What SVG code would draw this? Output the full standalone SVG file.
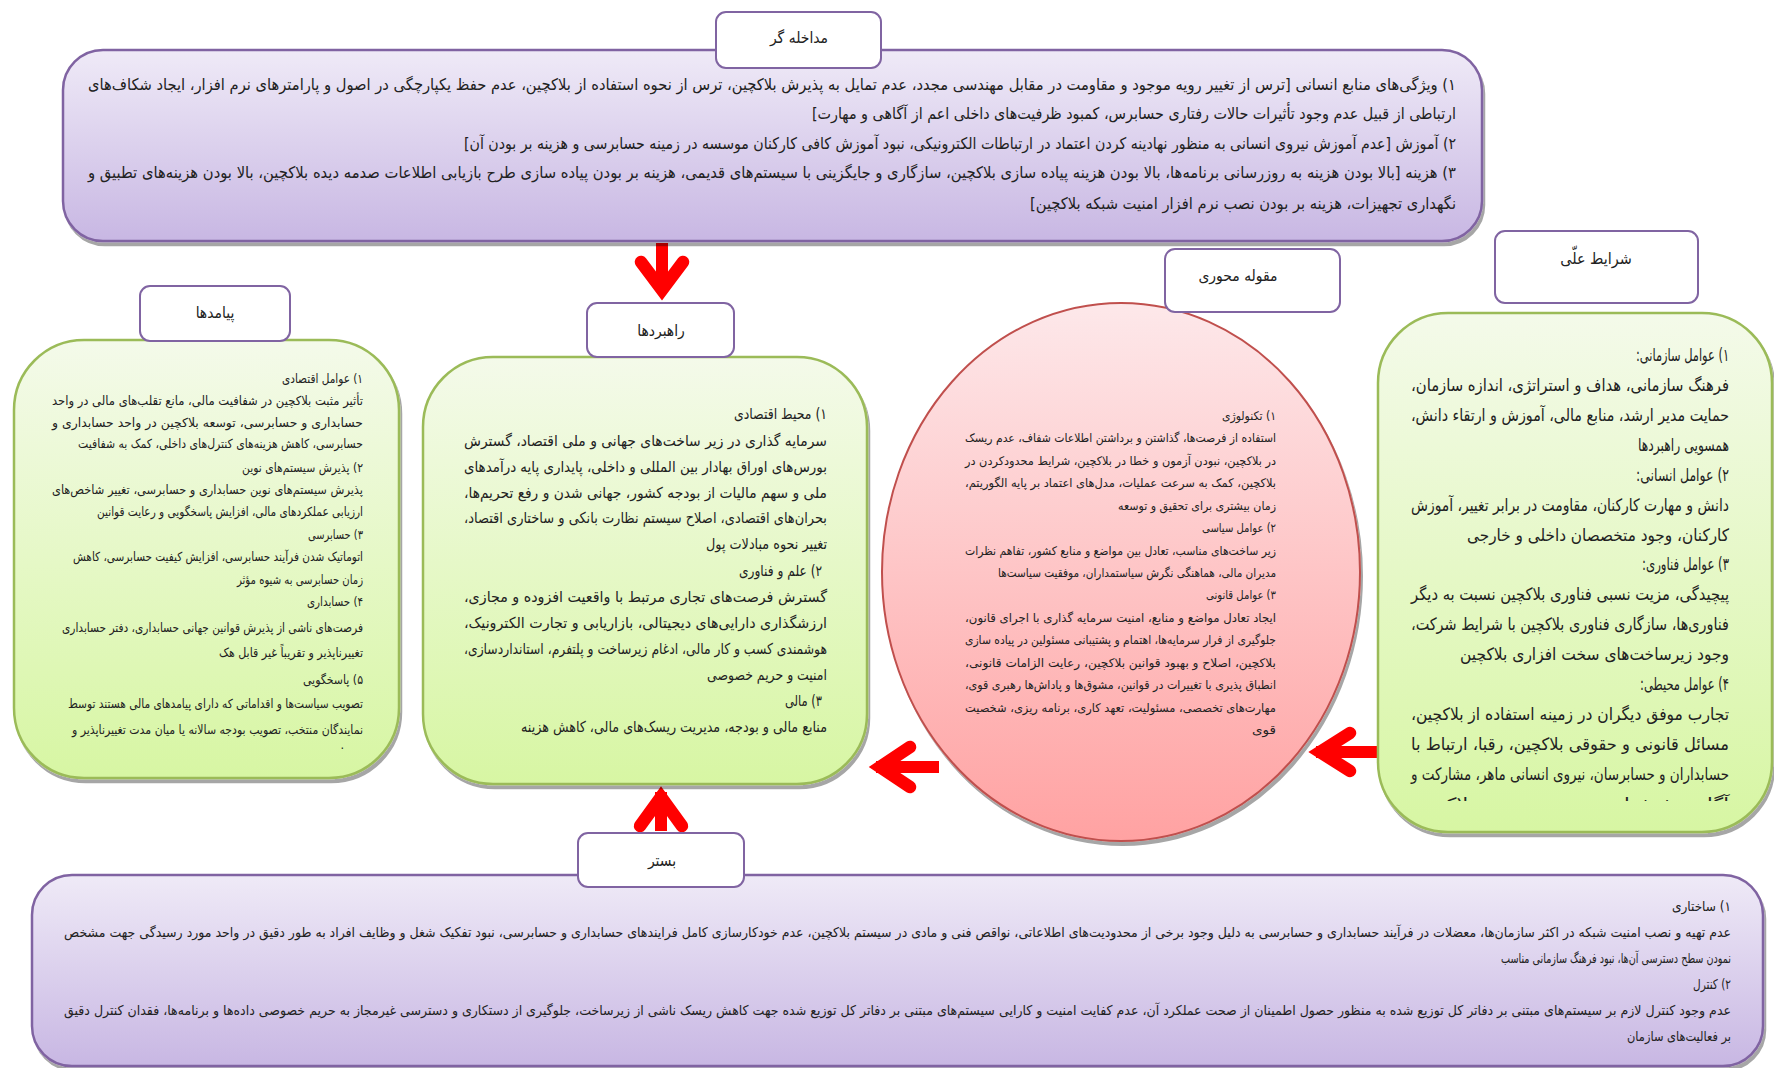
<svg xmlns="http://www.w3.org/2000/svg" width="1774" height="1068" viewBox="0 0 1774 1068">
<defs>
<linearGradient id="gP" x1="0" y1="0" x2="0" y2="1"><stop offset="0" stop-color="#efeaf7"/><stop offset="1" stop-color="#c8b7e3"/></linearGradient>
<linearGradient id="gG" x1="0" y1="0" x2="0" y2="1"><stop offset="0" stop-color="#f4faea"/><stop offset="1" stop-color="#d7f6a3"/></linearGradient>
<linearGradient id="gR" x1="0" y1="0" x2="0" y2="1"><stop offset="0" stop-color="#fde8ea"/><stop offset="1" stop-color="#ffa2a2"/></linearGradient>
<filter id="sh" x="-5%" y="-5%" width="110%" height="115%"><feDropShadow dx="2" dy="4" stdDeviation="0.6" flood-color="#000" flood-opacity="0.35"/></filter>
<clipPath id="clipR"><rect x="1380" y="760" width="390" height="41"/></clipPath>
<style>
.pbox{fill:url(#gP);stroke:#8064a2;stroke-width:2.5;filter:url(#sh)}
.gbox{fill:url(#gG);stroke:#9bbb59;stroke-width:2.5;filter:url(#sh)}
.rell{fill:url(#gR);stroke:#c0504d;stroke-width:2;filter:url(#sh)}
.lbl rect{fill:#fff;stroke:#8064a2;stroke-width:2}
.lbl text{font-family:"DejaVu Sans Condensed","DejaVu Sans",sans-serif;font-size:15.5px;fill:#222;text-anchor:middle}
.tx{font-family:"DejaVu Sans Condensed","DejaVu Sans",sans-serif;fill:#222;direction:rtl;text-anchor:start}
.f16{font-size:16px}.f12{font-size:12.5px}.f15{font-size:15px}.f11{font-size:12px}.f17{font-size:17px}.f13{font-size:13.5px}
.arr{fill:none;stroke:#ff0000;stroke-width:12.5;stroke-linecap:round;stroke-linejoin:miter}
.shaft{fill:none;stroke:#ff0000;stroke-width:12;stroke-linecap:butt}
</style>
</defs>
<rect width="1774" height="1068" fill="#fff"/>

<g id="connectors">
<path class="shaft" d="M662,243 V292"/>
<path class="arr" d="M641,262 L662,290 L683,262"/>
<path class="shaft" d="M939,767 H876"/>
<path class="arr" d="M910,747 L880,767 L910,787"/>
<path class="shaft" d="M1378,752 H1316"/>
<path class="arr" d="M1350,733 L1320,752 L1350,771"/>
<path class="shaft" d="M661,831 V792"/>
<path class="arr" d="M640,826 L661,797 L682,826"/>
</g>

<g id="intervening">
<rect class="pbox" x="63" y="50" width="1419" height="191" rx="40"/>
<text class="tx f16" x="1456" y="90" textLength="1368" lengthAdjust="spacingAndGlyphs">۱) ویژگی‌های منابع انسانی [ترس از تغییر رویه موجود و مقاومت در مقابل مهندسی مجدد، عدم تمایل به پذیرش بلاکچین، ترس از نحوه استفاده از بلاکچین، عدم حفظ یکپارچگی در اصول و پارامترهای نرم افزار، ایجاد شکاف‌های</text>
<text class="tx f16" x="1456" y="119" textLength="644" lengthAdjust="spacingAndGlyphs">ارتباطی از قبیل عدم وجود تأثیرات حالات رفتاری حسابرس، کمبود ظرفیت‌های داخلی اعم از آگاهی و مهارت]</text>
<text class="tx f16" x="1456" y="149" textLength="992" lengthAdjust="spacingAndGlyphs">۲) آموزش [عدم آموزش نیروی انسانی به منظور نهادینه کردن اعتماد در ارتباطات الکترونیکی، نبود آموزش کافی کارکنان موسسه در زمینه حسابرسی و هزینه بر بودن آن]</text>
<text class="tx f16" x="1456" y="178" textLength="1368" lengthAdjust="spacingAndGlyphs">۳) هزینه [بالا بودن هزینه به روزرسانی برنامه‌ها، بالا بودن هزینه پیاده سازی بلاکچین، سازگاری و جایگزینی با سیستم‌های قدیمی، هزینه بر بودن پیاده سازی طرح بازیابی اطلاعات صدمه دیده بلاکچین، بالا بودن هزینه‌های تطبیق و</text>
<text class="tx f16" x="1456" y="209" textLength="426" lengthAdjust="spacingAndGlyphs">نگهداری تجهیزات، هزینه بر بودن نصب نرم افزار امنیت شبکه بلاکچین]</text>
</g>
<g id="label-intervening" class="lbl">
<rect x="716" y="12" width="165" height="56" rx="10"/>
<text x="799" y="43">مداخله گر</text>
</g>

<g id="consequences">
<rect class="gbox" x="14" y="340" width="385" height="438" rx="70"/>
<text class="tx f12" x="363" y="383" textLength="81" lengthAdjust="spacingAndGlyphs">۱) عوامل اقتصادی</text>
<text class="tx f12" x="363" y="405" textLength="311" lengthAdjust="spacingAndGlyphs">تأثیر مثبت بلاکچین در شفافیت مالی، مانع تقلب‌های مالی در واحد</text>
<text class="tx f12" x="363" y="427" textLength="311" lengthAdjust="spacingAndGlyphs">حسابداری و حسابرسی، توسعه بلاکچین در واحد حسابداری و</text>
<text class="tx f12" x="363" y="448" textLength="285" lengthAdjust="spacingAndGlyphs">حسابرسی، کاهش هزینه‌های کنترل‌های داخلی، کمک به شفافیت</text>
<text class="tx f12" x="363" y="472" textLength="121" lengthAdjust="spacingAndGlyphs">۲) پذیرش سیستم‌های نوین</text>
<text class="tx f12" x="363" y="494" textLength="311" lengthAdjust="spacingAndGlyphs">پذیرش سیستم‌های نوین حسابداری و حسابرسی، تغییر شاخص‌های</text>
<text class="tx f12" x="363" y="516" textLength="266" lengthAdjust="spacingAndGlyphs">ارزیابی عملکردهای مالی، افزایش پاسخگویی و رعایت قوانین</text>
<text class="tx f12" x="363" y="539" textLength="55" lengthAdjust="spacingAndGlyphs">۳) حسابرسی</text>
<text class="tx f12" x="363" y="561" textLength="290" lengthAdjust="spacingAndGlyphs">اتوماتیک شدن فرآیند حسابرسی، افزایش کیفیت حسابرسی، کاهش</text>
<text class="tx f12" x="363" y="584" textLength="126" lengthAdjust="spacingAndGlyphs">زمان حسابرسی به شیوه مؤثر</text>
<text class="tx f12" x="363" y="606" textLength="56" lengthAdjust="spacingAndGlyphs">۴) حسابداری</text>
<text class="tx f12" x="363" y="632" textLength="301" lengthAdjust="spacingAndGlyphs">فرصت‌های ناشی از پذیرش قوانین جهانی حسابداری، دفتر حسابداری</text>
<text class="tx f12" x="363" y="657" textLength="144" lengthAdjust="spacingAndGlyphs">تغییرناپذیر و تقریباً غیر قابل هک</text>
<text class="tx f12" x="363" y="684" textLength="60" lengthAdjust="spacingAndGlyphs">۵) پاسخگویی</text>
<text class="tx f12" x="363" y="708" textLength="295" lengthAdjust="spacingAndGlyphs">تصویب سیاست‌ها و اقداماتی که دارای پیامدهای مالی هستند توسط</text>
<text class="tx f12" x="363" y="734" textLength="291" lengthAdjust="spacingAndGlyphs">نمایندگان منتخب، تصویب بودجه سالانه یا میان مدت تغییرناپذیر و</text>
<text class="tx f12" x="344" y="749">.</text>
</g>
<g id="label-consequences" class="lbl">
<rect x="140" y="286" width="150" height="55" rx="10"/>
<text x="215" y="318">پیامدها</text>
</g>

<g id="strategies">
<rect class="gbox" x="423" y="357" width="444" height="427" rx="70"/>
<text class="tx f15" x="827" y="419" textLength="93" lengthAdjust="spacingAndGlyphs">۱) محیط اقتصادی</text>
<text class="tx f15" x="827" y="446" textLength="363" lengthAdjust="spacingAndGlyphs">سرمایه گذاری در زیر ساخت‌های جهانی و ملی اقتصاد، گسترش</text>
<text class="tx f15" x="827" y="472" textLength="363" lengthAdjust="spacingAndGlyphs">بورس‌های اوراق بهادار بین المللی و داخلی، پایداری پایه درآمدهای</text>
<text class="tx f15" x="827" y="498" textLength="363" lengthAdjust="spacingAndGlyphs">ملی و سهم مالیات از بودجه کشور، جهانی شدن و رفع تحریم‌ها،</text>
<text class="tx f15" x="827" y="523" textLength="363" lengthAdjust="spacingAndGlyphs">بحران‌های اقتصادی، اصلاح سیستم نظارت بانکی و ساختاری اقتصاد،</text>
<text class="tx f15" x="827" y="549" textLength="121" lengthAdjust="spacingAndGlyphs">تغییر نحوه مبادلات پول</text>
<text class="tx f15" x="822" y="576" textLength="83" lengthAdjust="spacingAndGlyphs">۲) علم و فناوری</text>
<text class="tx f15" x="827" y="602" textLength="363" lengthAdjust="spacingAndGlyphs">گسترش فرصت‌های تجاری مرتبط با واقعیت افزوده و مجازی،</text>
<text class="tx f15" x="827" y="628" textLength="363" lengthAdjust="spacingAndGlyphs">ارزشگذاری دارایی‌های دیجیتالی، بازاریابی و تجارت الکترونیک،</text>
<text class="tx f15" x="827" y="654" textLength="363" lengthAdjust="spacingAndGlyphs">هوشمندی کسب و کار مالی، ادغام زیرساخت و پلتفرم، استانداردسازی،</text>
<text class="tx f15" x="827" y="680" textLength="120" lengthAdjust="spacingAndGlyphs">امنیت و حریم خصوصی</text>
<text class="tx f15" x="822" y="706" textLength="37" lengthAdjust="spacingAndGlyphs">۳) مالی</text>
<text class="tx f15" x="827" y="732" textLength="306" lengthAdjust="spacingAndGlyphs">منابع مالی و بودجه، مدیریت ریسک‌های مالی، کاهش هزینه</text>
</g>
<g id="label-strategies" class="lbl">
<rect x="587" y="303" width="147" height="54" rx="10"/>
<text x="661" y="336">راهبردها</text>
</g>

<g id="core-category">
<ellipse class="rell" cx="1121" cy="572" rx="239" ry="269"/>
<text class="tx f11" x="1276" y="420" textLength="54" lengthAdjust="spacingAndGlyphs">۱) تکنولوژی</text>
<text class="tx f11" x="1276" y="442" textLength="311" lengthAdjust="spacingAndGlyphs">استفاده از فرصت‌ها، گذاشتن و برداشتن اطلاعات شفاف، عدم ریسک</text>
<text class="tx f11" x="1276" y="465" textLength="311" lengthAdjust="spacingAndGlyphs">در بلاکچین، نبودن آزمون و خطا در بلاکچین، شرایط محدودکردن در</text>
<text class="tx f11" x="1276" y="487" textLength="311" lengthAdjust="spacingAndGlyphs">بلاکچین، کمک به سرعت عملیات، مدل‌های اعتماد بر پایه الگوریتم،</text>
<text class="tx f11" x="1276" y="510" textLength="158" lengthAdjust="spacingAndGlyphs">زمان بیشتری برای تحقیق و توسعه</text>
<text class="tx f11" x="1276" y="532" textLength="74" lengthAdjust="spacingAndGlyphs">۲) عوامل سیاسی</text>
<text class="tx f11" x="1276" y="555" textLength="311" lengthAdjust="spacingAndGlyphs">زیر ساخت‌های مناسب، تعادل بین مواضع و منابع کشور، تفاهم نظرات</text>
<text class="tx f11" x="1276" y="577" textLength="278" lengthAdjust="spacingAndGlyphs">مدیران مالی، هماهنگی نگرش سیاستمداران، موفقیت سیاست‌ها</text>
<text class="tx f11" x="1276" y="599" textLength="70" lengthAdjust="spacingAndGlyphs">۳) عوامل قانونی</text>
<text class="tx f11" x="1276" y="622" textLength="311" lengthAdjust="spacingAndGlyphs">ایجاد تعادل مواضع و منابع، امنیت سرمایه گذاری با اجرای قانون،</text>
<text class="tx f11" x="1276" y="644" textLength="311" lengthAdjust="spacingAndGlyphs">جلوگیری از فرار سرمایه‌ها، اهتمام و پشتیبانی مسئولین در پیاده سازی</text>
<text class="tx f11" x="1276" y="667" textLength="311" lengthAdjust="spacingAndGlyphs">بلاکچین، اصلاح و بهبود قوانین بلاکچین، رعایت الزامات قانونی،</text>
<text class="tx f11" x="1276" y="689" textLength="311" lengthAdjust="spacingAndGlyphs">انطباق پذیری با تغییرات در قوانین، مشوق‌ها و پاداش‌ها رهبری قوی،</text>
<text class="tx f11" x="1276" y="712" textLength="311" lengthAdjust="spacingAndGlyphs">مهارت‌های تخصصی، مسئولیت، تعهد کاری، برنامه ریزی، شخصیت</text>
<text class="tx f11" x="1276" y="734" textLength="24" lengthAdjust="spacingAndGlyphs">قوی</text>
</g>
<g id="label-core-category" class="lbl">
<rect x="1165" y="249" width="175" height="63" rx="10"/>
<text x="1238" y="281">مقوله محوری</text>
</g>

<g id="causal-conditions">
<rect class="gbox" x="1378" y="313" width="394" height="519" rx="70"/>
<text class="tx f17" x="1729" y="361" textLength="93" lengthAdjust="spacingAndGlyphs">۱) عوامل سازمانی:</text>
<text class="tx f17" x="1729" y="391" textLength="318" lengthAdjust="spacingAndGlyphs">فرهنگ سازمانی، هداف و استراتژی، اندازه سازمان،</text>
<text class="tx f17" x="1729" y="421" textLength="318" lengthAdjust="spacingAndGlyphs">حمایت مدیر ارشد، منابع مالی، آموزش و ارتقاء دانش،</text>
<text class="tx f17" x="1729" y="451" textLength="91" lengthAdjust="spacingAndGlyphs">همسویی راهبردها</text>
<text class="tx f17" x="1729" y="481" textLength="93" lengthAdjust="spacingAndGlyphs">۲) عوامل انسانی:</text>
<text class="tx f17" x="1729" y="511" textLength="318" lengthAdjust="spacingAndGlyphs">دانش و مهارت کارکنان، مقاومت در برابر تغییر، آموزش</text>
<text class="tx f17" x="1729" y="541" textLength="262" lengthAdjust="spacingAndGlyphs">کارکنان، وجود متخصصان داخلی و خارجی</text>
<text class="tx f17" x="1729" y="570" textLength="87" lengthAdjust="spacingAndGlyphs">۳) عوامل فناوری:</text>
<text class="tx f17" x="1729" y="600" textLength="318" lengthAdjust="spacingAndGlyphs">پیچیدگی، مزیت نسبی فناوری بلاکچین نسبت به دیگر</text>
<text class="tx f17" x="1729" y="630" textLength="318" lengthAdjust="spacingAndGlyphs">فناوری‌ها، سازگاری فناوری بلاکچین با شرایط شرکت،</text>
<text class="tx f17" x="1729" y="660" textLength="269" lengthAdjust="spacingAndGlyphs">وجود زیرساخت‌های سخت افزاری بلاکچین</text>
<text class="tx f17" x="1729" y="690" textLength="89" lengthAdjust="spacingAndGlyphs">۴) عوامل محیطی:</text>
<text class="tx f17" x="1729" y="720" textLength="318" lengthAdjust="spacingAndGlyphs">تجارب موفق دیگران در زمینه استفاده از بلاکچین،</text>
<text class="tx f17" x="1729" y="750" textLength="318" lengthAdjust="spacingAndGlyphs">مسائل قانونی و حقوقی بلاکچین، رقبا، ارتباط با</text>
<text class="tx f17" x="1729" y="780" textLength="318" lengthAdjust="spacingAndGlyphs">حسابداران و حسابرسان، نیروی انسانی ماهر، مشارکت و</text>
<text class="tx f17" x="1729" y="810" textLength="318" lengthAdjust="spacingAndGlyphs" clip-path="url(#clipR)">آگاهی ذینفعان، تسریع توسعه بلاکچین</text>
</g>
<g id="label-causal-conditions" class="lbl">
<rect x="1495" y="231" width="203" height="72" rx="10"/>
<text x="1596" y="264" style="font-size:16px">شرایط علّی</text>
</g>

<g id="context">
<rect class="pbox" x="32" y="875" width="1731" height="191" rx="40"/>
<text class="tx f13" x="1731" y="911" textLength="59" lengthAdjust="spacingAndGlyphs">۱) ساختاری</text>
<text class="tx f13" x="1731" y="937" textLength="1667" lengthAdjust="spacingAndGlyphs">عدم تهیه و نصب امنیت شبکه در اکثر سازمان‌ها، معضلات در فرآیند حسابداری و حسابرسی به دلیل وجود برخی از محدودیت‌های اطلاعاتی، نواقص فنی و مادی در سیستم بلاکچین، عدم خودکارسازی کامل فرایندهای حسابداری و حسابرسی، نبود تفکیک شغل و وظایف افراد به طور دقیق در واحد مورد رسیدگی جهت مشخص</text>
<text class="tx f13" x="1731" y="963" textLength="230" lengthAdjust="spacingAndGlyphs">نمودن سطح دسترسی آن‌ها، نبود فرهنگ سازمانی مناسب</text>
<text class="tx f13" x="1731" y="989" textLength="38" lengthAdjust="spacingAndGlyphs">۲) کنترل</text>
<text class="tx f13" x="1731" y="1015" textLength="1667" lengthAdjust="spacingAndGlyphs">عدم وجود کنترل لازم بر سیستم‌های مبتنی بر دفاتر کل توزیع شده به منظور حصول اطمینان از صحت عملکرد آن، عدم کفایت امنیت و کارایی سیستم‌های مبتنی بر دفاتر کل توزیع شده جهت کاهش ریسک ناشی از زیرساخت، جلوگیری از دستکاری و دسترسی غیرمجاز به حریم خصوصی داده‌ها و برنامه‌ها، فقدان کنترل دقیق</text>
<text class="tx f13" x="1731" y="1041" textLength="104" lengthAdjust="spacingAndGlyphs">بر فعالیت‌های سازمان</text>
</g>
<g id="label-context" class="lbl">
<rect x="578" y="833" width="166" height="54" rx="10"/>
<text x="662" y="866">بستر</text>
</g>
</svg>
